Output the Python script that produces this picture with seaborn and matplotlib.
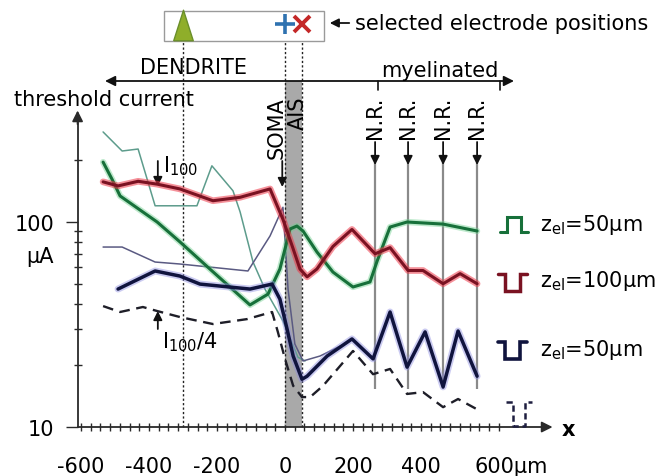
import numpy as np
import matplotlib
matplotlib.use("Agg")
import matplotlib.pyplot as plt
import matplotlib.patheffects as pe
import matplotlib.transforms as mtrans
from matplotlib.patches import Rectangle, FancyArrowPatch
from matplotlib.ticker import FixedLocator, FixedFormatter, NullFormatter
import seaborn as sns

# ---------------- data (x in µm, threshold in µA) ----------------
red_x = [-535, -491, -432, -376, -309, -212, -132, -44, -6, 24, 44, 65, 94, 141, 197, 265, 309, 362, 406, 465, 515, 565]
red_y = [157, 150, 158, 153, 145, 127, 132, 145, 103, 74, 59, 54, 59, 76, 92, 70, 75, 58, 58, 50, 56, 50]

green_x = [-535, -509, -485, -376, -309, -221, -103, -50, -15, 15, 35, 53, 94, 141, 200, 250, 271, 309, 359, 465, 565]
green_y = [196, 162, 134, 100, 80, 59, 39.4, 44.5, 59, 92.5, 95.6, 90.4, 71.4, 57, 48.2, 51, 64.5, 94.5, 100, 97.7, 90.4]

navy_x = [-491, -382, -309, -250, -103, -38, -15, 6, 24, 50, 65, 124, 197, 259, 309, 359, 412, 465, 509, 565]
navy_y = [47.1, 57.7, 54.5, 49.8, 47.1, 49.8, 42.1, 30.1, 22.2, 17.1, 17.7, 22.2, 26.9, 21.5, 36.4, 19.6, 29.1, 15.7, 29.4, 17.7]

dash_x = [-535, -485, -418, -376, -309, -212, -112, -38, -21, 0, 24, 50, 74, 112, 200, 259, 309, 359, 406, 465, 509, 565]
dash_y = [38.9, 36.4, 38.5, 36.8, 34.4, 31.8, 33.6, 36.4, 29.1, 21.5, 15.9, 14.0, 14.0, 15.9, 23.5, 18.1, 19.2, 14.5, 14.8, 12.5, 13.7, 12.2]

teal_x = [-535, -479, -432, -382, -259, -215, -153, -132, -94, -59, -6, 38, 59]
teal_y = [275, 222, 227, 120, 120, 188, 142, 112, 63.8, 47.1, 32.9, 21.9, 21]

gray_x = [-535, -479, -382, -309, -109, -44, -6, 9, 29, 53, 103, 162]
gray_y = [75.5, 75.5, 63.8, 62.4, 57.7, 85.5, 118, 47, 25.4, 21, 22.2, 24.8]

electrodes = [-300, 0, 50]
node_x = [265, 362, 465, 565]
ais_x = [0, 50]

xtick_vals = [-600, -400, -200, 0, 200, 400, 600]
xtick_labels = ["-600", "-400", "-200", "0", "200", "400", "600µm"]
ytick_vals = [10, 100]
ytick_labels = ["10", "100"]
ytick_minor = [20, 30, 40, 50, 60, 70, 80, 90, 200]
legend_labels = [r"z$_{\rm el}$=50µm", r"z$_{\rm el}$=100µm", r"z$_{\rm el}$=50µm"]

# ---------------- style ----------------
sns.set_theme(style="white")
plt.rcParams["font.family"] = ["DejaVu Sans"]
plt.rcParams["mathtext.fontset"] = "dejavusans"
plt.rcParams["text.color"] = "black"
plt.rcParams["xtick.color"] = "black"
plt.rcParams["ytick.color"] = "black"
FS = 15

W, H = 664, 477
fig = plt.figure(figsize=(W / 100, H / 100), dpi=100)
fig.patch.set_facecolor("white")
ax = fig.add_axes([0, 0, 1, 1])
ax.set_facecolor("none")
ax.set_yscale("log")
ax.set_xlim(-838.2, 1114.7)
ax.set_ylim(5.77, 1224)


def F(px, py):
    return (px / W, 1 - py / H)


figT = fig.transFigure
bl = mtrans.blended_transform_factory(ax.transData, fig.transFigure)

AX = "#2a2a2a"
for s in ["top", "right"]:
    ax.spines[s].set_visible(False)
ax.spines["left"].set_position(("data", -610))
ax.spines["left"].set_bounds(10, 305)
ax.spines["bottom"].set_position(("data", 10))
ax.spines["bottom"].set_bounds(-610, 765)
for s in ["left", "bottom"]:
    ax.spines[s].set_color(AX)
    ax.spines[s].set_linewidth(1.3)

ax.xaxis.set_major_locator(FixedLocator(xtick_vals))
ax.xaxis.set_major_formatter(FixedFormatter(xtick_labels))
ax.xaxis.set_minor_locator(FixedLocator(list(np.arange(-600, 640, 200 / 7))))
ax.tick_params(axis="x", which="both", direction="inout", length=5.5, width=1, color=AX,
               labelsize=FS, pad=18, bottom=True, labelcolor="black")
ax.yaxis.set_major_locator(FixedLocator(ytick_vals))
ax.yaxis.set_major_formatter(FixedFormatter(ytick_labels))
ax.yaxis.set_minor_locator(FixedLocator(ytick_minor))
ax.yaxis.set_minor_formatter(NullFormatter())
ax.tick_params(axis="y", which="major", direction="out", length=9, width=1, color=AX,
               labelsize=FS, pad=8, left=True, labelcolor="black")
ax.tick_params(axis="y", which="minor", direction="inout", length=5.5, width=1, color=AX, left=True)
ax.grid(False)
for lab in ax.get_xticklabels():
    if lab.get_text().endswith("µm"):
        lab.set_transform(lab.get_transform() + mtrans.ScaledTranslation(0.22, 0, fig.dpi_scale_trans))

# axis arrows
ax.annotate("", xy=(787, 10), xytext=(760, 10),
            arrowprops=dict(arrowstyle="-|>", color=AX, lw=1.3, mutation_scale=16, shrinkA=0, shrinkB=0))
ax.annotate("", xy=(-610, 350), xytext=(-610, 300),
            arrowprops=dict(arrowstyle="-|>", color=AX, lw=1.3, mutation_scale=16, shrinkA=0, shrinkB=0))
fig.text(*F(562, 430), "x", fontsize=FS, fontweight="bold", va="center", ha="left")
fig.text(*F(40, 257), "µA", fontsize=FS, va="center", ha="center")
fig.text(*F(14, 100), "threshold current", fontsize=FS, va="center", ha="left")

# AIS band
ax.fill_between(ais_x, 10, 490, color="#a9a9a9", lw=0, zorder=1)

# electrode dotted lines
ax.vlines(electrodes, 10, 764, colors="#222", linestyles=(0, (1.6, 1.6)), lw=1, zorder=2)

# node of Ranvier lines
ax.vlines(node_x, 15.3, 200, colors="#8a8a8a", lw=1.6, zorder=2)

# ---------------- curves ----------------
def glow(c, w, a=0.45):
    return [pe.Stroke(linewidth=w, foreground=c, alpha=a), pe.Normal()]

sns.lineplot(x=teal_x, y=teal_y, ax=ax, color="#5d9c8c", lw=1.1, estimator=None, sort=False, zorder=3)
sns.lineplot(x=gray_x, y=gray_y, ax=ax, color="#5a5a82", lw=1.1, estimator=None, sort=False, zorder=3)
sns.lineplot(x=green_x, y=green_y, ax=ax, color="#17703a", lw=2.2, estimator=None, sort=False, zorder=4,
             path_effects=glow("#6fd08f", 4.5))
sns.lineplot(x=red_x, y=red_y, ax=ax, color="#7a1222", lw=2.2, estimator=None, sort=False, zorder=4,
             path_effects=glow("#ee3848", 4.8, 0.55))
sns.lineplot(x=navy_x, y=navy_y, ax=ax, color="#10143e", lw=2.5, estimator=None, sort=False, zorder=5,
             path_effects=glow("#8c8ce0", 5))
sns.lineplot(x=dash_x, y=dash_y, ax=ax, color="#1e1e28", lw=1.7, estimator=None, sort=False, zorder=5,
             linestyle=(0, (4.5, 2.8)))

# ---------------- annotations ----------------
# top box with selected electrode positions
fig.patches.append(Rectangle(F(164, 42), 160 / W, 30 / H, transform=figT, facecolor="white",
                             edgecolor="#9a9a9a", lw=1, zorder=-1))
tri = [(-0.32, -0.5), (0.32, -0.5), (0.0, 0.5), (-0.32, -0.5)]
ax.plot([electrodes[0]], [F(0, 26)[1]], transform=bl, marker=tri, ms=22, color="#8fae2a",
        mec="#6a8f2a", ls="none", clip_on=False, zorder=6)
ax.plot([electrodes[1]], [F(0, 25)[1]], transform=bl, marker="+", ms=15, mew=2.6, color="#2f72b0",
        ls="none", clip_on=False, zorder=6)
ax.plot([electrodes[2]], [F(0, 25)[1]], transform=bl, marker="x", ms=12, mew=2.8, color="#c42828",
        ls="none", clip_on=False, zorder=6)
fig.patches.append(FancyArrowPatch(F(352, 24), F(327, 24), transform=figT,
                   arrowstyle="-|>", mutation_scale=13, color="#111", lw=1.3))
fig.text(*F(355, 24), "selected electrode positions", fontsize=FS, va="center", ha="left")

# dendrite / myelinated arrow
fig.patches.append(FancyArrowPatch(F(105, 82), F(514, 82), transform=figT,
                   arrowstyle="<|-|>", mutation_scale=15, color="#111", lw=1.3, shrinkA=0, shrinkB=0))
for px in [378, 500]:
    fig.lines.append(plt.Line2D([px / W, px / W], [F(0, 82)[1], F(0, 91)[1]], transform=figT,
                                color="#111", lw=1.2))
fig.text(*F(193, 68), "DENDRITE", fontsize=FS, va="center", ha="center")
fig.text(*F(440, 71), "myelinated", fontsize=FS, va="center", ha="center")

# SOMA / AIS
ax.text(-26, F(0, 97)[1], "SOMA", transform=bl, rotation=90, fontsize=FS, ha="center", va="top", zorder=7)
ax.text(38, F(0, 97)[1], "AIS", transform=bl, rotation=90, fontsize=FS, ha="center", va="top", zorder=7)
ax.annotate("", xy=(-8, F(0, 188)[1]), xytext=(-8, F(0, 162)[1]), xycoords=bl, textcoords=bl,
            arrowprops=dict(arrowstyle="-|>", color="#111", lw=1.3, mutation_scale=13, shrinkA=0, shrinkB=0))

# N.R. labels
for nx in node_x:
    ax.text(nx, F(0, 97)[1], "N.R.", transform=bl, rotation=90, fontsize=FS, ha="center", va="top")
    ax.annotate("", xy=(nx, F(0, 166)[1]), xytext=(nx, F(0, 143)[1]), xycoords=bl, textcoords=bl,
                arrowprops=dict(arrowstyle="-|>", color="#111", lw=1.3, mutation_scale=13, shrinkA=0, shrinkB=0))

# I100 labels
ax.annotate("", xy=(-374, F(0, 187)[1]), xytext=(-374, F(0, 162)[1]), xycoords=bl, textcoords=bl,
            arrowprops=dict(arrowstyle="-|>", color="#111", lw=1.3, mutation_scale=13, shrinkA=0, shrinkB=0))
fig.text(*F(163, 166), r"I$_{100}$", fontsize=FS, va="center", ha="left")
ax.annotate("", xy=(-374, F(0, 312)[1]), xytext=(-374, F(0, 330)[1]), xycoords=bl, textcoords=bl,
            arrowprops=dict(arrowstyle="-|>", color="#111", lw=1.3, mutation_scale=13, shrinkA=0, shrinkB=0))
fig.text(*F(162, 342), r"I$_{100}$/4", fontsize=FS, va="center", ha="left")

# legend glyphs
def glyph(xs, ys, color, lw, ls="-"):
    fig.lines.append(plt.Line2D([x / W for x in xs], [1 - y / H for y in ys], transform=figT,
                                color=color, lw=lw, ls=ls, solid_joinstyle="miter"))

glyph([500, 507, 507, 521, 521, 528], [233, 233, 218, 218, 233, 233], "#17703a", 2.2)
glyph([498, 505, 505, 520, 520, 527], [275, 275, 292, 292, 275, 275], "#7a1222", 2.5)
glyph([498, 505, 505, 520, 520, 527], [343, 343, 360, 360, 343, 343], "#10143e", 2.6)
glyph([506, 513, 513, 525, 525, 532], [403, 403, 427, 427, 403, 403], "#1e1e40", 1.8, (0, (2.5, 1.5)))
fig.text(*F(540, 225), legend_labels[0], fontsize=FS, va="center", ha="left")
fig.text(*F(540, 281), legend_labels[1], fontsize=FS, va="center", ha="left")
fig.text(*F(540, 350), legend_labels[2], fontsize=FS, va="center", ha="left")

fig.savefig("out.png", dpi=100)
